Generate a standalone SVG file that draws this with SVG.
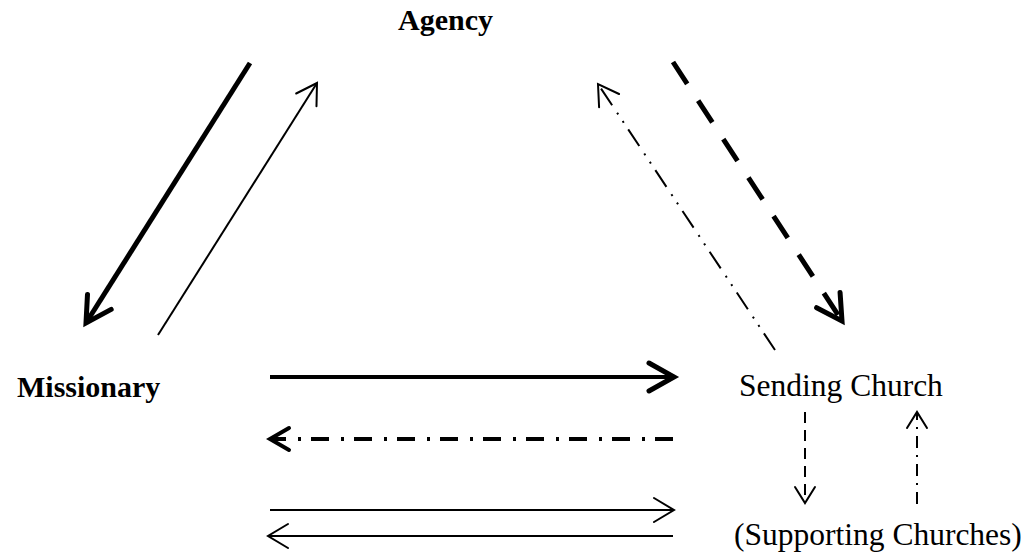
<svg xmlns="http://www.w3.org/2000/svg" width="1032" height="554" viewBox="0 0 1032 554">
<style>
.lbl{font-family:"Liberation Serif","Times New Roman",serif;fill:#000}
.b{font-weight:bold;font-size:30px}
.r{font-size:31.5px}
.ln{fill:none;stroke:#000}
.thick{stroke-width:5}
.med{stroke-width:4}
.thin{stroke-width:2}
</style>
<defs>
<marker id="hThick" markerUnits="userSpaceOnUse" orient="auto" refX="0" refY="0" markerWidth="60" markerHeight="60" overflow="visible">
<path d="M-25,-14 L0,0 L-25,14" fill="none" stroke="#000" stroke-width="5" stroke-linejoin="miter" stroke-linecap="round"/>
</marker>
<marker id="hMed" markerUnits="userSpaceOnUse" orient="auto" refX="0" refY="0" markerWidth="60" markerHeight="60" overflow="visible">
<path d="M-19,-11 L0,0 L-19,11" fill="none" stroke="#000" stroke-width="4" stroke-linejoin="miter" stroke-linecap="round"/>
</marker>
<marker id="hThin" markerUnits="userSpaceOnUse" orient="auto" refX="0" refY="0" markerWidth="60" markerHeight="60" overflow="visible">
<path d="M-20,-12 L0,0 L-20,12" fill="none" stroke="#000" stroke-width="2" stroke-linejoin="miter" stroke-linecap="round"/>
</marker>
<marker id="hSmall" markerUnits="userSpaceOnUse" orient="auto" refX="0" refY="0" markerWidth="60" markerHeight="60" overflow="visible">
<path d="M-16,-10 L0,0 L-16,10" fill="none" stroke="#000" stroke-width="2" stroke-linejoin="miter" stroke-linecap="round"/>
</marker>
</defs>
<g id="node-agency"><text class="lbl b" x="398" y="30">Agency</text></g>
<g id="node-missionary"><text class="lbl b" x="17" y="397">Missionary</text></g>
<g id="node-sending-church"><text class="lbl r" x="739" y="396">Sending Church</text></g>
<g id="node-supporting-churches"><text class="lbl r" x="734" y="545">(Supporting Churches)</text></g>
<g id="connectors">
<line class="ln thick" x1="250" y1="63" x2="86" y2="323" marker-end="url(#hThick)"/>
<line class="ln thin" x1="158" y1="335" x2="317" y2="83" marker-end="url(#hThin)"/>
<line class="ln thin" x1="775" y1="350" x2="598" y2="84" stroke-dasharray="20 8 2 8 2 9" marker-end="url(#hThin)"/>
<line class="ln thick" x1="673" y1="62" x2="842" y2="321" stroke-dasharray="26 20" marker-end="url(#hThick)"/>
<line class="ln med" x1="270" y1="377" x2="674" y2="377" marker-end="url(#hThick)"/>
<line class="ln med" x1="673" y1="439" x2="270" y2="439" stroke-dasharray="18 10 3 12" marker-end="url(#hMed)"/>
<line class="ln thin" x1="270" y1="510" x2="674" y2="510" marker-end="url(#hThin)"/>
<line class="ln thin" x1="673" y1="536" x2="268" y2="536" marker-end="url(#hThin)"/>
<line class="ln thin" x1="805" y1="412" x2="805" y2="503" stroke-dasharray="11 7" marker-end="url(#hSmall)"/>
<line class="ln thin" x1="917" y1="504" x2="917" y2="412" stroke-dasharray="12 7 2 7" marker-end="url(#hSmall)"/>
</g>
</svg>
